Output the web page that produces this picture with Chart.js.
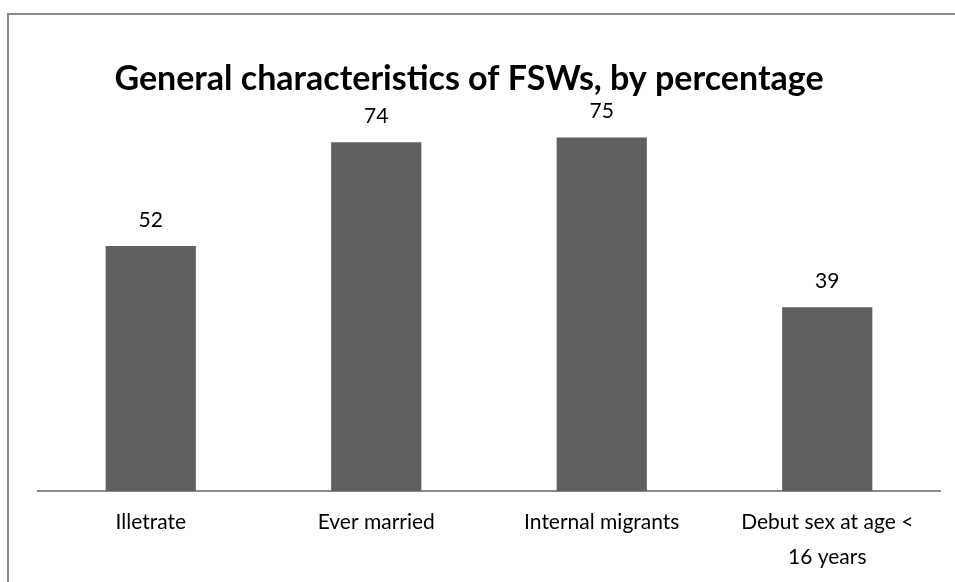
<!DOCTYPE html>
<html>
<head>
<meta charset="utf-8">
<script src="https://cdn.jsdelivr.net/npm/chart.js@4.4.1/dist/chart.umd.min.js"></script>
<style>
  html, body { margin: 0; padding: 0; background: #fff; overflow: hidden; }
  #frame {
    position: absolute; left: 7px; top: 13px; width: 1000px; height: 1000px;
    border-left: 2px solid #8a8a8a; border-top: 2px solid #8a8a8a;
  }
  #wrap { position: absolute; left: 0; top: 0; width: 955px; height: 595px; }
</style>
</head>
<body>
<div id="frame"></div>
<div id="wrap"><canvas id="fswChart"></canvas></div>
<script>
const chartTitle = "General characteristics of FSWs, by percentage";
const categories = ["Illetrate", "Ever married", "Internal migrants", ["Debut sex at age <", "16 years"]];
const percentages = [52, 74, 75, 39];

const fontFamily = "Lato, 'Open Sans', sans-serif";

// draws the value above each bar and the chart title
const labelsPlugin = {
    id: "barLabels",
    afterDraw(chart) {
        const ctx = chart.ctx;
        ctx.save();
        ctx.fillStyle = "#000";
        ctx.textAlign = "center";
        ctx.textBaseline = "middle";
        ctx.font = `21px ${fontFamily}`;
        chart.getDatasetMeta(0).data.forEach((bar, i) => {
            ctx.fillText(String(percentages[i]), bar.x, bar.y - 26);
        });
        ctx.font = `bold 34px ${fontFamily}`;
        ctx.fillText(chartTitle, 469, 79);
        ctx.restore();
    }
};

const ctx = document.getElementById("fswChart").getContext("2d");
new Chart(ctx, {
    type: "bar",
    data: {
        labels: categories,
        datasets: [{
            data: percentages,
            backgroundColor: "#606060",
            borderWidth: 0,
            categoryPercentage: 1,
            barPercentage: 0.4
        }]
    },
    options: {
        responsive: true,
        maintainAspectRatio: false,
        animation: false,
        layout: { padding: { top: 114, left: 38, right: 15, bottom: 6 } },
        plugins: {
            legend: { display: false },
            title: { display: false },
            tooltip: { enabled: false }
        },
        scales: {
            y: { display: false, min: 0, max: 80 },
            x: {
                grid: { display: false, drawTicks: false },
                border: { display: true, color: "#8a8a8a", width: 2 },
                ticks: {
                    color: "#000",
                    padding: 14,
                    maxRotation: 0,
                    font: { family: fontFamily, size: 21, lineHeight: 1.667 }
                }
            }
        }
    },
    plugins: [labelsPlugin]
});
</script>
</body>
</html>
